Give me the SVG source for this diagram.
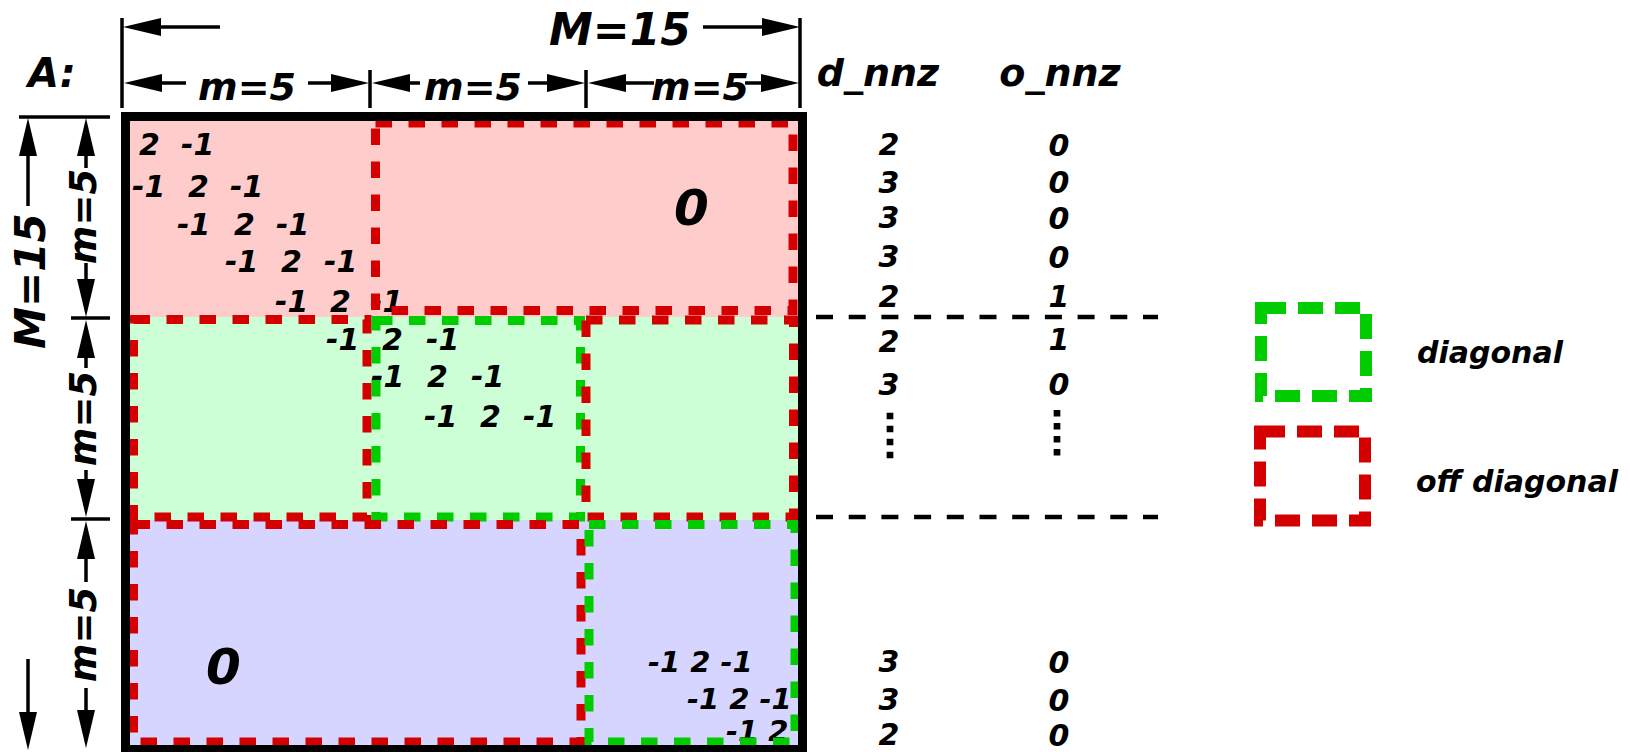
<svg xmlns="http://www.w3.org/2000/svg" width="1630" height="752" viewBox="0 0 1630 752">
<style>
text{font-family:"DejaVu Sans","Liberation Sans",sans-serif;font-weight:bold;font-style:italic;fill:#000}
.e{font-size:30px}
.s{font-size:29px}
.big{font-size:50px}
.dim{stroke:#000;stroke-width:3.5;fill:none}
.arr{stroke:#000;stroke-width:3.5;fill:none;marker-end:url(#ah)}
.red{fill:none;stroke:#d40000;stroke-width:9;stroke-dasharray:16.5 16.5}
.grn{fill:none;stroke:#00cc00;stroke-width:9;stroke-dasharray:16.5 16.5}
.lred{fill:none;stroke:#d40000;stroke-width:12;stroke-dasharray:25 12}
.lgrn{fill:none;stroke:#00cc00;stroke-width:12;stroke-dasharray:25 12}
.sep{stroke:#000;stroke-width:4.5;stroke-dasharray:17 15.7}
.dots{stroke:#000;stroke-width:6.7;stroke-dasharray:6.5 6.5}
</style>
<defs>
<marker id="ah" markerUnits="userSpaceOnUse" markerWidth="38" markerHeight="18" refX="30" refY="9" orient="auto">
<path d="M0,0 L38,9 L0,18 Z" fill="#000"/>
</marker>
</defs>

<g id="matrix-fills">
<rect x="130" y="121" width="668" height="196" fill="#ffcccc"/>
<rect x="130" y="317" width="668" height="203" fill="#ccffd5"/>
<rect x="130" y="520" width="668" height="225" fill="#d5d5ff"/>
</g>

<g id="entries">
<text class="e" y="155"><tspan x="139">2</tspan><tspan x="181">-1</tspan></text>
<text class="e" y="197"><tspan x="132">-1</tspan><tspan x="188">2</tspan><tspan x="230">-1</tspan></text>
<text class="e" y="235"><tspan x="177">-1</tspan><tspan x="234">2</tspan><tspan x="276">-1</tspan></text>
<text class="e" y="272"><tspan x="225">-1</tspan><tspan x="281">2</tspan><tspan x="324">-1</tspan></text>
<text class="e" y="312"><tspan x="275">-1</tspan><tspan x="330">2</tspan><tspan x="370">-1</tspan></text>
<text class="e" y="350"><tspan x="326">-1</tspan><tspan x="382">2</tspan><tspan x="426">-1</tspan></text>
<text class="e" y="387"><tspan x="371">-1</tspan><tspan x="427">2</tspan><tspan x="471">-1</tspan></text>
<text class="e" y="427"><tspan x="424">-1</tspan><tspan x="480">2</tspan><tspan x="523">-1</tspan></text>
<text class="s" x="648" y="672">-1 2 -1</text>
<text class="s" x="687" y="709">-1 2 -1</text>
<text class="s" x="726" y="741">-1 2</text>
<text class="big" x="674" y="225">0</text>
<text class="big" x="206" y="684">0</text>
</g>

<g id="blocks">
<rect id="off-0" class="red" x="375.5" y="123" width="417.5" height="187.5"/>
<rect id="off-1a" class="red" x="133.5" y="319.5" width="233.5" height="197.5"/>
<rect id="diag-1" class="grn" x="376" y="320.5" width="204.5" height="196.5"/>
<rect id="off-1b" class="red" x="586" y="320" width="207.5" height="197"/>
<rect id="off-2" class="red" x="133.5" y="524.5" width="447.5" height="217.5"/>
<rect id="diag-2" class="grn" x="589" y="524.5" width="206" height="217.5"/>
</g>

<g id="matrix-border">
<rect x="125.5" y="116.5" width="677" height="633" fill="none" stroke="#000" stroke-width="9"/>
</g>

<g id="dimensions">
<line class="dim" x1="122" y1="18" x2="122" y2="108"/>
<line class="dim" x1="800" y1="18" x2="800" y2="108"/>
<line class="dim" x1="370" y1="70" x2="370" y2="108"/>
<line class="dim" x1="586" y1="70" x2="586" y2="108"/>
<line class="arr" x1="220" y1="27" x2="131" y2="27"/>
<line class="arr" x1="703" y1="27" x2="792" y2="27"/>
<line class="arr" x1="186" y1="83" x2="132" y2="83"/>
<line class="arr" x1="308" y1="83" x2="361" y2="83"/>
<line class="arr" x1="420" y1="83" x2="380" y2="83"/>
<line class="arr" x1="528" y1="83" x2="577" y2="83"/>
<line class="arr" x1="654" y1="83" x2="596" y2="83"/>
<line class="arr" x1="745" y1="83" x2="791" y2="83"/>
<line class="dim" x1="19" y1="117" x2="110" y2="117"/>
<line class="dim" x1="71" y1="318" x2="110" y2="318"/>
<line class="dim" x1="71" y1="519" x2="110" y2="519"/>
<line class="arr" x1="86" y1="168" x2="86" y2="126"/>
<line class="arr" x1="86" y1="263" x2="86" y2="309"/>
<line class="arr" x1="86" y1="368" x2="86" y2="328"/>
<line class="arr" x1="86" y1="470" x2="86" y2="509"/>
<line class="arr" x1="86" y1="582" x2="86" y2="529"/>
<line class="arr" x1="86" y1="688" x2="86" y2="740"/>
<line class="arr" x1="28" y1="206" x2="28" y2="126"/>
<line class="arr" x1="28" y1="659" x2="28" y2="742"/>
<text x="620" y="45" font-size="44" text-anchor="middle">M=15</text>
<text x="28" y="87" font-size="40">A:</text>
<text x="247" y="100" font-size="38" text-anchor="middle">m=5</text>
<text x="473" y="100" font-size="38" text-anchor="middle">m=5</text>
<text x="700" y="100" font-size="38" text-anchor="middle">m=5</text>
<text x="45" y="281" font-size="42" text-anchor="middle" transform="rotate(-90 45 281)">M=15</text>
<text x="96" y="216.5" font-size="37" text-anchor="middle" transform="rotate(-90 96 216.5)">m=5</text>
<text x="96" y="418.5" font-size="37" text-anchor="middle" transform="rotate(-90 96 418.5)">m=5</text>
<text x="96" y="634.5" font-size="37" text-anchor="middle" transform="rotate(-90 96 634.5)">m=5</text>
</g>

<g id="nnz-table">
<text x="878" y="86" font-size="38" text-anchor="middle">d_nnz</text>
<text x="1060" y="86" font-size="38" text-anchor="middle">o_nnz</text>
<g class="e" text-anchor="middle">
<text x="889" y="155">2</text><text x="1059" y="156">0</text>
<text x="889" y="193">3</text><text x="1059" y="193">0</text>
<text x="889" y="228">3</text><text x="1059" y="229">0</text>
<text x="889" y="267">3</text><text x="1059" y="268">0</text>
<text x="889" y="307">2</text><text x="1059" y="307">1</text>
<text x="889" y="352">2</text><text x="1059" y="350">1</text>
<text x="889" y="395">3</text><text x="1059" y="395">0</text>
<text x="889" y="672">3</text><text x="1059" y="673">0</text>
<text x="889" y="710">3</text><text x="1059" y="711">0</text>
<text x="889" y="745">2</text><text x="1059" y="746">0</text>
</g>
<line class="dots" x1="890" y1="412.7" x2="890" y2="460"/>
<line class="dots" x1="1057" y1="410" x2="1057" y2="457"/>
<line class="sep" x1="816" y1="317" x2="1158" y2="317"/>
<line class="sep" x1="816" y1="517" x2="1158" y2="517"/>
</g>

<g id="legend-diagonal">
<rect class="lgrn" x="1261" y="308" width="105" height="88"/>
<text class="e" x="1417" y="363">diagonal</text>
</g>
<g id="legend-offdiagonal">
<rect class="lred" x="1260" y="431.5" width="105" height="89"/>
<text class="e" x="1416" y="492">off diagonal</text>
</g>
</svg>
